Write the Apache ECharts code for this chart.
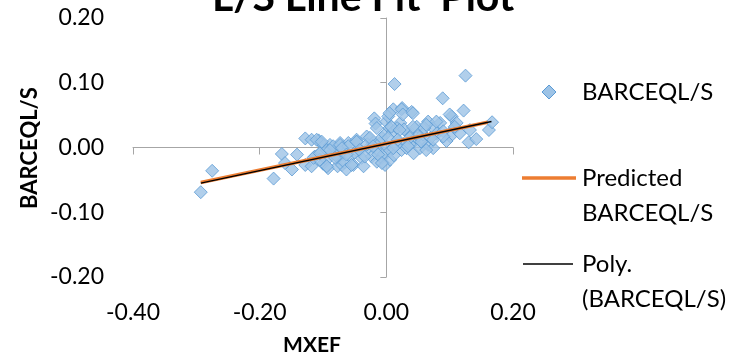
<!DOCTYPE html>
<html>
<head>
<meta charset="utf-8">
<script src="https://cdn.jsdelivr.net/npm/echarts@6/dist/echarts.min.js"></script>
<style>
  html, body { margin: 0; padding: 0; background: #fff; }
  #chart { width: 741px; height: 358px; }
</style>
</head>
<body>
<div id="chart"></div>
<script>
  const mxef = [
    -0.293, -0.275, -0.178, -0.165, -0.160, -0.149, -0.141, -0.128, -0.128, -0.118,
    -0.113, -0.107, -0.118, -0.102, -0.105, -0.115, -0.100, -0.094, -0.092, -0.089,
    -0.084, -0.077, -0.076, -0.073, -0.070, -0.068, -0.066, -0.063, -0.060, -0.057,
    -0.052, -0.047, -0.044, -0.039, -0.036, -0.031, -0.028, -0.023, -0.021, -0.019,
    -0.017, -0.015, -0.013, -0.010, -0.007, -0.007, -0.004, -0.002, -0.002, 0.000,
    0.000, 0.003, 0.005, 0.006, 0.006, 0.012, 0.011, 0.011, 0.013, 0.019,
    0.022, 0.024, 0.025, 0.032, 0.035, 0.040, 0.043, 0.043, 0.048, 0.053,
    0.056, 0.058, 0.066, 0.066, 0.074, 0.074, 0.080, 0.085, 0.089, 0.101,
    0.103, 0.108, 0.111, 0.116, 0.122, 0.125, 0.130, 0.132, 0.142, 0.162,
    0.167, -0.105, -0.094, -0.084, -0.073, -0.060, -0.047, 0.017, 0.028, 0.050,
    0.060, 0.090, 0.095, 0.070, 0.037, 0.015, -0.030, -0.050, -0.080, 0.024,
    -0.110, -0.102, -0.105, -0.089, -0.081, -0.094, -0.070, -0.063, -0.055, -0.047,
    -0.042, -0.034, -0.026, -0.021, -0.013, -0.007, -0.015, 0.005, 0.026, 0.042,
    0.008, 0.021, 0.042, 0.063, 0.079, 0.003, 0.018, 0.037, 0.055, 0.074,
    0.090, 0.011, 0.034, 0.063, 0.100, 0.108
  ];
  const barceql = [
    -0.069, -0.036, -0.048, -0.010, -0.024, -0.034, -0.011, 0.014, -0.027, -0.029,
    -0.014, 0.011, 0.012, 0.006, -0.009, -0.016, -0.025, -0.019, -0.032, 0.004,
    -0.006, -0.029, -0.016, 0.007, -0.027, -0.004, -0.023, -0.034, 0.007, -0.014,
    -0.027, 0.012, -0.004, -0.016, -0.029, 0.017, -0.001, -0.014, 0.007, 0.045,
    0.037, -0.022, -0.004, 0.007, 0.015, -0.016, -0.010, 0.020, -0.027, 0.040,
    0.002, 0.048, 0.030, -0.005, -0.019, -0.012, 0.059, 0.025, 0.098, 0.009,
    0.038, -0.004, 0.061, -0.001, 0.022, 0.055, 0.012, -0.009, 0.032, -0.001,
    0.009, 0.020, 0.040, 0.004, 0.030, -0.001, 0.022, 0.038, 0.076, 0.017,
    0.048, 0.030, 0.038, 0.022, 0.057, 0.111, 0.008, 0.027, 0.013, 0.027,
    0.039, -0.019, -0.004, 0.002, 0.004, 0.002, 0.009, 0.030, 0.028, 0.018,
    0.030, 0.025, 0.010, 0.015, 0.005, 0.003, 0.005, -0.008, -0.012, 0.059,
    0.012, 0.009, -0.009, -0.004, -0.016, -0.029, -0.001, -0.011, -0.027, 0.009,
    -0.004, -0.014, 0.015, 0.002, -0.011, -0.024, 0.030, 0.053, 0.051, 0.053,
    0.032, 0.027, 0.032, 0.035, 0.040, 0.015, 0.012, 0.015, 0.009, 0.012,
    0.017, -0.001, 0.002, -0.004, 0.051, 0.032
  ];
  // predicted line and trendline, end points
  const predX = [-0.293, 0.160];
  const predY = [-0.054, 0.039];
  const polyX = [-0.293, 0.166];
  const polyY = [-0.055, 0.040];

  const xTicks = { min: -0.4, max: 0.2, step: 0.2 };
  const yTicks = { min: -0.2, max: 0.2, step: 0.1 };

  const font = 'Lato, "Open Sans", sans-serif';
  const axisGray = '#a6a6a6';

  const pts = mxef.map((x, i) => [x, barceql[i]]);
  const pred = predX.map((x, i) => [x, predY[i]]);
  const poly = polyX.map((x, i) => [x, polyY[i]]);

  const chart = echarts.init(document.getElementById('chart'), null, { renderer: 'canvas' });

  const fmt = v => v.toFixed(2);

  const option = {
    animation: false,
    backgroundColor: '#fff',
    grid: { left: 133, right: 228, top: 18, bottom: 81 },
    xAxis: [
      {
        type: 'value', min: xTicks.min, max: xTicks.max, interval: xTicks.step,
        position: 'bottom',
        axisLine: { show: false, onZero: false },
        axisTick: { show: false },
        splitLine: { show: false },
        axisLabel: { formatter: fmt, margin: 24, fontSize: 23, color: '#000', fontFamily: font }
      },
      {
        type: 'value', min: xTicks.min, max: xTicks.max, interval: xTicks.step,
        position: 'bottom',
        axisLine: { show: true, onZero: true, onZeroAxisIndex: 1, lineStyle: { color: axisGray, width: 1 } },
        axisTick: { show: true, length: 7, lineStyle: { color: axisGray } },
        splitLine: { show: false },
        axisLabel: { show: false }
      }
    ],
    yAxis: [
      {
        type: 'value', min: yTicks.min, max: yTicks.max, interval: yTicks.step,
        position: 'left',
        axisLine: { show: false, onZero: false },
        axisTick: { show: false },
        splitLine: { show: false },
        axisLabel: { formatter: fmt, margin: 29, fontSize: 23, color: '#000', fontFamily: font }
      },
      {
        type: 'value', min: yTicks.min, max: yTicks.max, interval: yTicks.step,
        position: 'left',
        axisLine: { show: true, onZero: true, onZeroAxisIndex: 1, lineStyle: { color: axisGray, width: 1 } },
        axisTick: { show: true, length: 6, lineStyle: { color: axisGray } },
        splitLine: { show: false },
        axisLabel: { show: false }
      }
    ],
    series: [
      {
        name: 'BARCEQL/S',
        type: 'scatter',
        symbol: 'diamond',
        symbolSize: 13,
        data: pts,
        itemStyle: { color: '#9dc3e6', borderColor: '#5b9bd5', borderWidth: 1 },
        z: 2
      },
      {
        name: 'Predicted BARCEQL/S',
        type: 'line',
        data: pred,
        showSymbol: false,
        lineStyle: { color: '#ed7d31', width: 3.5 },
        z: 3
      },
      {
        name: 'Poly. (BARCEQL/S)',
        type: 'line',
        data: poly,
        showSymbol: false,
        lineStyle: { color: '#000', width: 1.5 },
        z: 4
      }
    ],
    graphic: [
      // chart title (top of it runs off the picture)
      {
        type: 'text', left: 212, top: -23,
        style: { text: 'L/S Line Fit  Plot', font: 'bold 41px ' + font, fill: '#000' }
      },
      // axis titles
      {
        type: 'text', x: 312, y: 345,
        style: { text: 'MXEF', font: 'bold 21px ' + font, fill: '#000', align: 'center', verticalAlign: 'middle' }
      },
      {
        type: 'text', x: 30, y: 148, rotation: Math.PI / 2,
        style: { text: 'BARCEQL/S', font: 'bold 22px ' + font, fill: '#000', align: 'center', verticalAlign: 'middle' }
      },
      // legend
      {
        type: 'polygon',
        shape: { points: [[549, 85], [556, 92], [549, 99], [542, 92]] },
        style: { fill: '#9dc3e6', stroke: '#5b9bd5', lineWidth: 1 }
      },
      {
        type: 'text', x: 582, y: 92,
        style: { text: 'BARCEQL/S', font: '24px ' + font, fill: '#000', verticalAlign: 'middle' }
      },
      {
        type: 'line', shape: { x1: 522, y1: 178, x2: 576, y2: 178 },
        style: { stroke: '#ed7d31', lineWidth: 3.5 }
      },
      {
        type: 'text', x: 582, y: 160.5,
        style: { text: 'Predicted\nBARCEQL/S', font: '24px ' + font, lineHeight: 35, fill: '#000', verticalAlign: 'top' }
      },
      {
        type: 'line', shape: { x1: 523, y1: 264, x2: 573, y2: 264 },
        style: { stroke: '#000', lineWidth: 1.5 }
      },
      {
        type: 'text', x: 582, y: 246.5,
        style: { text: 'Poly.\n(BARCEQL/S)', font: '24px ' + font, lineHeight: 35, fill: '#000', verticalAlign: 'top' }
      }
    ]
  };

  chart.setOption(option);
</script>
</body>
</html>
